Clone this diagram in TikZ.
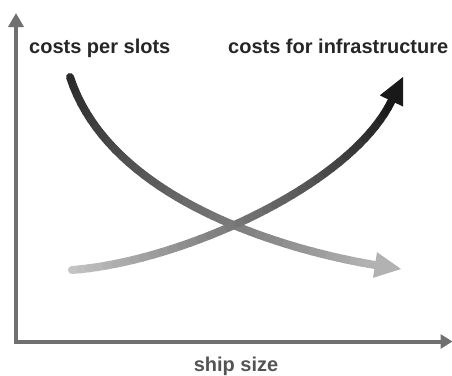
\documentclass[tikz,border=0pt]{standalone}
\usepackage{fontspec}
\setmainfont{Liberation Sans}
\usetikzlibrary{calc, arrows.meta}
\tikzset{
axis/.style={line width=4pt, black!56, line join=miter,
  {Triangle[length=14pt,width=15pt]}-{Triangle[length=12pt,width=14pt]}},
curve/.style={line width=8pt, line cap=round},
lbl/.style={font=\fontsize{20}{24}\selectfont\bfseries, text=black!85, inner sep=0pt},
}

\begin{document}
\begin{tikzpicture}[x=1pt, y=-1pt]
    \useasboundingbox (0,0) rectangle (452,375);

    % axes
    \coordinate (ytop) at (16,13);
    \coordinate (o) at (16,341.5);
    \coordinate (xend) at (452.5,341.5);
    \draw[axis] (ytop) -- (o) -- (xend);

    % costs per slots
    \coordinate (a0) at (70,77);
    \coordinate (a1) at (110,200);
    \coordinate (a2) at (285,250);
    \coordinate (a3) at (375,265);
    \coordinate (atip) at (401,269);
    \foreach \i in {1,...,40}{
        \pgfmathsetmacro\ta{(\i-1)/40}
        \pgfmathsetmacro\tb{\i/40}
        \pgfmathtruncatemacro\gr{85-55*\i/40}
        \path (a0) .. controls (a1) and (a2) .. (a3)
            coordinate[pos=\ta] (u) coordinate[pos=\tb] (v);
        \draw[curve, black!\gr] (u) -- (v);
    }
    \fill[black!30] ($(a3)!13pt!90:(atip)$) -- (atip) -- ($(a3)!13pt!-90:(atip)$) -- cycle;

    % costs for infrastructure
    \coordinate (b0) at (72,270);
    \coordinate (b1) at (180,262);
    \coordinate (b2) at (350,186);
    \coordinate (b3) at (391.5,101);
    \coordinate (btip) at (403,77);
    \foreach \i in {1,...,40}{
        \pgfmathsetmacro\ta{(\i-1)/40}
        \pgfmathsetmacro\tb{\i/40}
        \pgfmathtruncatemacro\gr{22+68*\i/40}
        \path (b0) .. controls (b1) and (b2) .. (b3)
            coordinate[pos=\ta] (u) coordinate[pos=\tb] (v);
        \draw[curve, black!\gr] (u) -- (v);
    }
    \fill[black!90] ($(b3)!13pt!90:(btip)$) -- (btip) -- ($(b3)!13pt!-90:(btip)$) -- cycle;

    % labels
    \node[lbl, anchor=base west] (slots) at (29,53) {costs per slots};
    \node[lbl, anchor=base west] (infra) at (228,53) {costs for infrastructure};
    \node[lbl, anchor=base, text=black!67] (size) at (236,371) {ship size};
\end{tikzpicture}
\end{document}
